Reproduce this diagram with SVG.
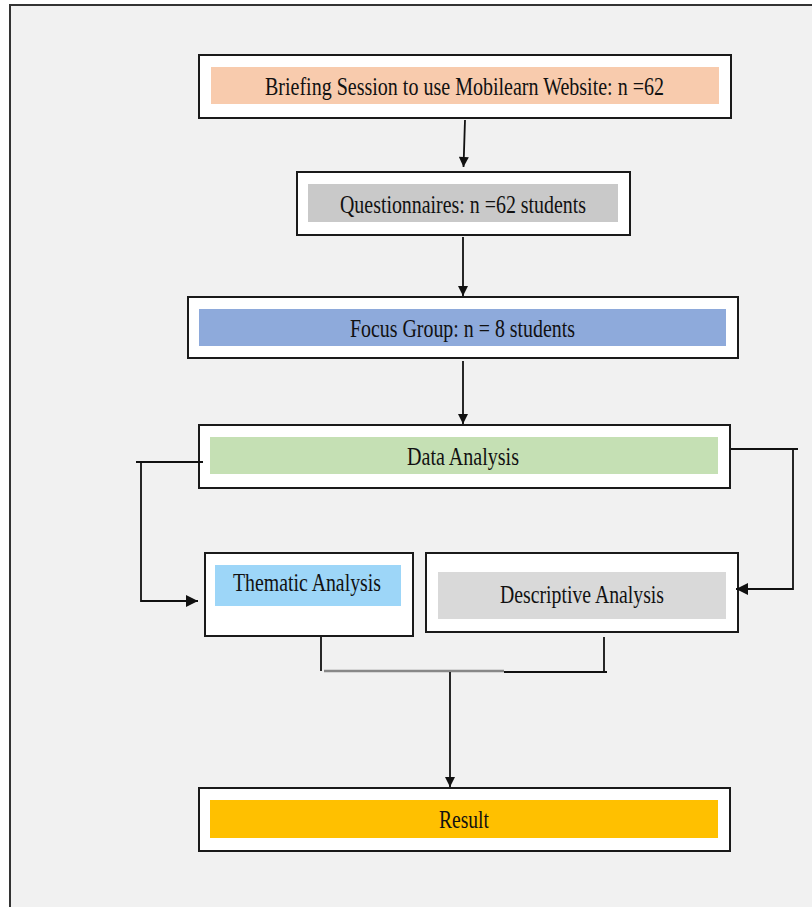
<svg xmlns="http://www.w3.org/2000/svg" width="812" height="907" viewBox="0 0 812 907">
<style>
.box{fill:#ffffff;stroke:#1a1a1a;stroke-width:2}
.lbl{font-family:"Liberation Serif","DejaVu Serif",serif;font-size:25px;fill:#111;text-anchor:start}
.ln{fill:none;stroke:#111;stroke-width:1.8}
</style>
<defs>
<marker id="ah" viewBox="0 0 10 10" refX="10" refY="5" markerWidth="14" markerHeight="10" markerUnits="userSpaceOnUse" orient="auto">
<path d="M0,0 L10,5 L0,10 z" fill="#111"/>
</marker>
<marker id="ahb" viewBox="0 0 10 10" refX="10" refY="5" markerWidth="12" markerHeight="15" markerUnits="userSpaceOnUse" orient="auto">
<path d="M0,0 L10,5 L0,10 z" fill="#111"/>
</marker>
</defs>
<rect x="0" y="0" width="812" height="907" fill="#ffffff"/>
<rect x="10" y="5" width="810" height="910" fill="#f1f1f1"/>
<path d="M10,907 V5 H812" fill="none" stroke="#333" stroke-width="2"/>

<g id="briefing">
<rect class="box" x="199" y="55" width="532" height="63"/>
<rect x="211" y="67" width="508" height="37" fill="#f8cbad"/>
<text class="lbl" x="265" y="95" textLength="399" lengthAdjust="spacingAndGlyphs">Briefing Session to use Mobilearn Website: n =62</text>
</g>
<g id="questionnaires">
<rect class="box" x="297" y="172" width="333" height="63"/>
<rect x="308" y="184" width="310" height="38" fill="#c9c9c9"/>
<text class="lbl" x="340" y="213" textLength="246" lengthAdjust="spacingAndGlyphs">Questionnaires: n =62 students</text>
</g>
<g id="focus">
<rect class="box" x="188" y="297" width="550" height="61"/>
<rect x="199" y="309" width="527" height="37" fill="#8eaadb"/>
<text class="lbl" x="350" y="337" textLength="225" lengthAdjust="spacingAndGlyphs">Focus Group:  n = 8 students</text>
</g>
<g id="data">
<rect class="box" x="199" y="425" width="531" height="63"/>
<rect x="210" y="437" width="508" height="37" fill="#c5e0b4"/>
<text class="lbl" x="407" y="465" textLength="112" lengthAdjust="spacingAndGlyphs">Data Analysis</text>
</g>
<g id="thematic">
<rect class="box" x="205" y="553" width="208" height="83"/>
<rect x="215" y="565" width="186" height="41" fill="#9dd6f8"/>
<text class="lbl" x="233" y="591" textLength="148" lengthAdjust="spacingAndGlyphs">Thematic Analysis</text>
</g>
<g id="descriptive">
<rect class="box" x="426" y="553" width="312" height="79"/>
<rect x="438" y="572" width="288" height="47" fill="#d9d9d9"/>
<text class="lbl" x="500" y="603" textLength="164" lengthAdjust="spacingAndGlyphs">Descriptive Analysis</text>
</g>
<g id="result">
<rect class="box" x="199" y="788" width="531" height="63"/>
<rect x="210" y="800" width="508" height="38" fill="#ffc000"/>
<text class="lbl" x="439" y="828" textLength="50" lengthAdjust="spacingAndGlyphs">Result</text>
</g>

<g id="connectors">
<path class="ln" d="M465,120 L463.5,167" marker-end="url(#ah)"/>
<path class="ln" d="M463,237 L463,296" marker-end="url(#ah)"/>
<path class="ln" d="M463,361 L463,424" marker-end="url(#ah)"/>
<path class="ln" d="M203,462 H136"/>
<path class="ln" d="M141,462 V601 H198" marker-end="url(#ahb)"/>
<path class="ln" d="M731,449 H798"/>
<path class="ln" d="M793,449 V589 H736" marker-end="url(#ahb)"/>
<path class="ln" d="M321,637 V671"/>
<path class="ln" d="M604,637 V672"/>
<path d="M324,671 H504" fill="none" stroke="#888" stroke-width="2.5"/>
<path class="ln" d="M504,672 H607"/>
<path class="ln" d="M450,672 V787" marker-end="url(#ah)"/>
</g>
</svg>
